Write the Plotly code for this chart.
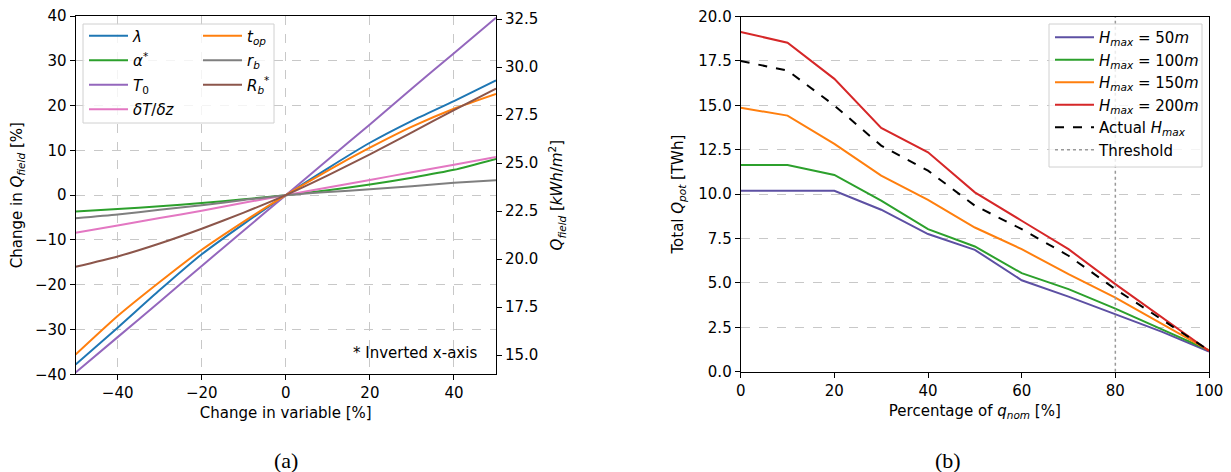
import plotly.graph_objects as go

# ---------------- data: panel (a) ----------------
change_pct = [-50, -40, -30, -20, -10, 0, 10, 20, 30, 40, 50]
lam = [-37.8, -29.6, -21.2, -13.2, -6.4, 0, 6.0, 11.7, 16.6, 21.0, 25.6]
alpha = [-3.66, -3.1, -2.47, -1.76, -0.94, 0, 1.09, 2.38, 3.9, 5.65, 8.1]
T0 = [-39.6, -31.7, -23.8, -15.8, -7.9, 0, 7.9, 15.8, 23.8, 31.7, 39.6]
dTdz = [-8.4, -6.8, -5.1, -3.5, -1.7, 0, 1.7, 3.4, 5.1, 6.8, 8.5]
t_op = [-35.6, -27.0, -19.4, -12.2, -5.9, 0, 5.5, 10.6, 15.3, 19.3, 22.6]
r_b = [-5.15, -4.33, -3.25, -2.24, -1.1, 0, 0.7, 1.3, 2.0, 2.75, 3.35]
R_b = [-16.0, -13.7, -10.8, -7.5, -3.9, 0, 4.4, 9.1, 14.0, 19.0, 23.8]
q_field_base = 23.33  # kWh/m2 at 0 % change

# ---------------- data: panel (b) ----------------
q_nom_pct = [0, 10, 20, 30, 40, 50, 60, 70, 80, 90, 100]
h50 = [10.19, 10.19, 10.19, 9.12, 7.75, 6.86, 5.15, 4.23, 3.24, 2.24, 1.13]
h100 = [11.64, 11.64, 11.08, 9.63, 8.03, 7.05, 5.55, 4.65, 3.55, 2.39, 1.2]
h150 = [14.86, 14.42, 12.83, 11.04, 9.68, 8.12, 6.9, 5.49, 4.17, 2.67, 1.2]
h200 = [19.13, 18.52, 16.49, 13.73, 12.35, 10.10, 8.5, 6.9, 4.93, 3.05, 1.17]
h_actual = [17.49, 16.96, 14.99, 12.73, 11.32, 9.35, 8.03, 6.53, 4.65, 2.95, 1.2]
threshold = 80

# page body has an 8 px margin: the figure is drawn at (8, 8)
OFF = 8
W, H = 1231 - OFF, 472 - OFF
def px(x):
    return (x - OFF) / W
def py(y):
    return 1 - (y - OFF) / H

FONT = "DejaVu Sans"
FS = 15
fig = go.Figure()

series_a1 = [
    ("<i>λ</i>", lam, "#1f77b4"),
    ("<i>α</i><sup>*</sup>", alpha, "#2ca02c"),
    ("<i>T</i><sub>0</sub>", T0, "#9467bd"),
    ("<i>δT</i>/<i>δz</i>", dTdz, "#e377c2"),
]
series_a2 = [
    ("<i>t<sub>op</sub></i>", t_op, "#ff7f0e"),
    ("<i>r<sub>b</sub></i>", r_b, "#7f7f7f"),
    ("<i>R<sub>b</sub></i><sup>*</sup>", R_b, "#8c564b"),
]
for group, leg in ((series_a1, "legend"), (series_a2, "legend2")):
    for name, vals, col in group:
        fig.add_trace(go.Scatter(x=change_pct, y=vals, mode="lines", name=name,
                                 line=dict(color=col, width=2, shape="spline", smoothing=0.6),
                                 xaxis="x", yaxis="y", legend=leg, legendgroup=name))
# helper (empty) trace for the right-hand axis of panel (a)
fig.add_trace(go.Scatter(x=[], y=[], xaxis="x", yaxis="y2", showlegend=False, hoverinfo="skip"))

series_b = [
    ("<i>H<sub>max</sub></i> = 50<i>m</i>", h50, "#5d50a3", "solid"),
    ("<i>H<sub>max</sub></i> = 100<i>m</i>", h100, "#2ca02c", "solid"),
    ("<i>H<sub>max</sub></i> = 150<i>m</i>", h150, "#ff7f0e", "solid"),
    ("<i>H<sub>max</sub></i> = 200<i>m</i>", h200, "#d62728", "solid"),
    ("Actual <i>H<sub>max</sub></i>", h_actual, "black", "dash"),
]
for name, vals, col, dash in series_b:
    fig.add_trace(go.Scatter(x=q_nom_pct, y=vals, mode="lines", name=name,
                             line=dict(color=col, width=2, dash=dash),
                             xaxis="x3", yaxis="y3", legend="legend3", legendgroup=name))
fig.add_trace(go.Scatter(x=[threshold, threshold], y=[0, 20], mode="lines", name="Threshold",
                         line=dict(color="#999999", width=1.5, dash="dot"),
                         xaxis="x3", yaxis="y3", legend="legend3", legendgroup="thr"))

tickfont = dict(family=FONT, size=FS, color="black")
titlefont = dict(family=FONT, size=FS, color="black")
grid = dict(showgrid=True, gridcolor="#c8c8c8", griddash="dash", gridwidth=1)
axline = dict(showline=True, linecolor="black", linewidth=1, ticks="outside",
              ticklen=5, tickcolor="black", tickfont=tickfont, zeroline=False,
              automargin=False, ticklabeloverflow="allow")

legfont = dict(family=FONT, size=FS, color="black")
legcommon = dict(bgcolor="rgba(0,0,0,0)", borderwidth=0, font=legfont,
                 itemwidth=39, xanchor="left", yanchor="top")

fig.update_layout(
    width=W, height=H, margin=dict(l=0, r=0, t=0, b=0),
    paper_bgcolor="white", plot_bgcolor="white",
    showlegend=True,
    xaxis=dict(domain=[px(75.6), px(496)], range=[-50, 50], dtick=20, tick0=0,
               mirror=True, anchor="y",
               title=dict(text="Change in variable [%]", font=titlefont, standoff=6),
               **grid, **axline),
    yaxis=dict(domain=[py(374.3), py(16)], range=[-40, 40], dtick=10, anchor="x",
               title=dict(text="Change in <i>Q<sub>field</sub></i> [%]", font=titlefont, standoff=10),
               **grid, **axline),
    yaxis2=dict(overlaying="y", side="right", anchor="x",
                range=[q_field_base * 0.6, q_field_base * 1.4], tick0=15, dtick=2.5,
                tickformat=".1f", showgrid=False,
                title=dict(text="<i>Q<sub>field</sub></i> [<i>kWh</i>/<i>m</i><sup>2</sup>]",
                           font=titlefont, standoff=14),
                **axline),
    xaxis3=dict(domain=[px(740.7), px(1209)], range=[0, 100], dtick=20, anchor="y3",
                mirror=True, showgrid=False,
                title=dict(text="Percentage of <i>q<sub>nom</sub></i> [%]", font=titlefont, standoff=6),
                **axline),
    yaxis3=dict(domain=[py(371.7), py(16.5)], range=[0, 20], dtick=2.5, tickformat=".1f",
                anchor="x3", mirror=True,
                title=dict(text="Total <i>Q<sub>pot</sub></i> [TWh]", font=titlefont, standoff=11),
                **grid, **axline),
    legend=dict(x=px(84), y=py(19.5), tracegroupgap=2, **legcommon),
    legend2=dict(x=px(198), y=py(19.5), tracegroupgap=2, **legcommon),
    legend3=dict(x=px(1050), y=py(21), tracegroupgap=0, **legcommon),
    shapes=[
        dict(type="rect", xref="paper", yref="paper", x0=px(83), x1=px(274), y0=py(123), y1=py(24),
             line=dict(color="#d0d0d0", width=1), fillcolor="rgba(255,255,255,0.8)", layer="above"),
        dict(type="rect", xref="paper", yref="paper", x0=px(1049), x1=px(1202), y0=py(167), y1=py(24),
             line=dict(color="#d0d0d0", width=1), fillcolor="rgba(255,255,255,0.8)", layer="above"),
    ],
    annotations=[
        dict(text="* Inverted x-axis", xref="paper", yref="paper", x=px(479), y=py(353),
             xanchor="right", yanchor="middle", showarrow=False, font=legfont),
        dict(text="(a)", xref="paper", yref="paper", x=px(286), y=py(460),
             xanchor="center", yanchor="middle", showarrow=False,
             font=dict(family="Liberation Serif", size=22, color="black")),
        dict(text="(b)", xref="paper", yref="paper", x=px(948), y=py(460),
             xanchor="center", yanchor="middle", showarrow=False,
             font=dict(family="Liberation Serif", size=22, color="black")),
    ],
)

fig.write_html("out.html")
